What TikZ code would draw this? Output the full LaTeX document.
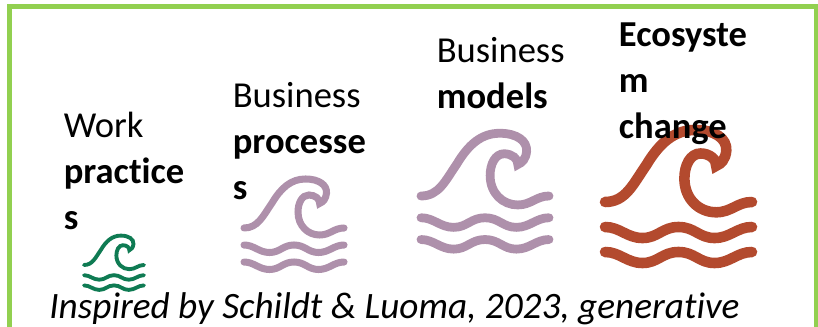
\documentclass[tikz,border=0pt]{standalone}
\usepackage{fontspec}
\setmainfont[Ligatures=NoCommon]{Carlito}
\usepackage{tikz}

\definecolor{framegreen}{HTML}{92D050}
\definecolor{wavegreen}{HTML}{0F7B53}
\definecolor{wavemauve}{HTML}{AE90AB}
\definecolor{wavered}{HTML}{B34A2E}

\tikzset{
    label/.style={anchor=base west, align=left, inner sep=0pt, font={\fontsize{20.8}{26.2}\selectfont}},
    credit/.style={anchor=base west, inner sep=0pt, font={\fontsize{21.2}{26}\selectfont\itshape}},
    wavepic/.pic={
        \draw[pic actions] (0,0) .. controls (14,0) and (19,12) .. (28,25)
            .. controls (37,40) and (47,49) .. (61.5,49)
            .. controls (75,49) and (83,43) .. (82.5,35)
            .. controls (82,29) and (79,26) .. (75.6,24.6)
            .. controls (76,29) and (71,33) .. (65,33)
            .. controls (58,33) and (54,25) .. (54,16)
            .. controls (54,2) and (64,-7) .. (75.6,-7)
            .. controls (86,-7) and (90,0) .. (100,0);
        \foreach \y in {-17,-34} {
            \draw[pic actions] (0,\y) .. controls (10,\y) and (15,\y-7.5) .. (25.5,\y-7.5)
                .. controls (36,\y-7.5) and (39,\y) .. (50,\y)
                .. controls (61,\y) and (64,\y-7.5) .. (74.5,\y-7.5)
                .. controls (85,\y-7.5) and (90,\y) .. (100,\y);
        }
    }
}

\begin{document}
\begin{tikzpicture}
    \useasboundingbox (0,0) rectangle (16.36,6.52);
    \clip (0,0) rectangle (16.36,6.52);
    % frame
    \draw[framegreen, line width=3pt] (0.19,-1) rectangle (16.33,6.39);
    % waves
    \pic[draw=wavegreen, line width=2.2pt, line cap=round, scale=0.0120] at (1.68,1.22) {wavepic};
    \pic[draw=wavemauve, line width=4pt, line cap=round, scale=0.0200] at (4.88,1.96) {wavepic};
    \pic[draw=wavemauve, line width=5pt, line cap=round, scale=0.0256] at (8.42,2.60) {wavepic};
    \pic[draw=wavered, line width=6pt, line cap=round, scale=0.0294] at (12.10,2.48) {wavepic};
    % labels
    \node[label] (work) at (1.27,1.92) {Work\\\textbf{practice}\\\textbf{s}};
    \node[label] (processes) at (4.65,2.52) {Business\\\textbf{processe}\\\textbf{s}};
    \node[label] (models) at (8.73,4.34) {Business\\\textbf{models}};
    \node[label] (ecosystem) at (12.37,3.74) {\textbf{Ecosyste}\\\textbf{m}\\\textbf{change}};
    \node[credit] (inspired) at (0.98,0.14) {Inspired by Schildt \& Luoma, 2023, generative};
\end{tikzpicture}
\end{document}
